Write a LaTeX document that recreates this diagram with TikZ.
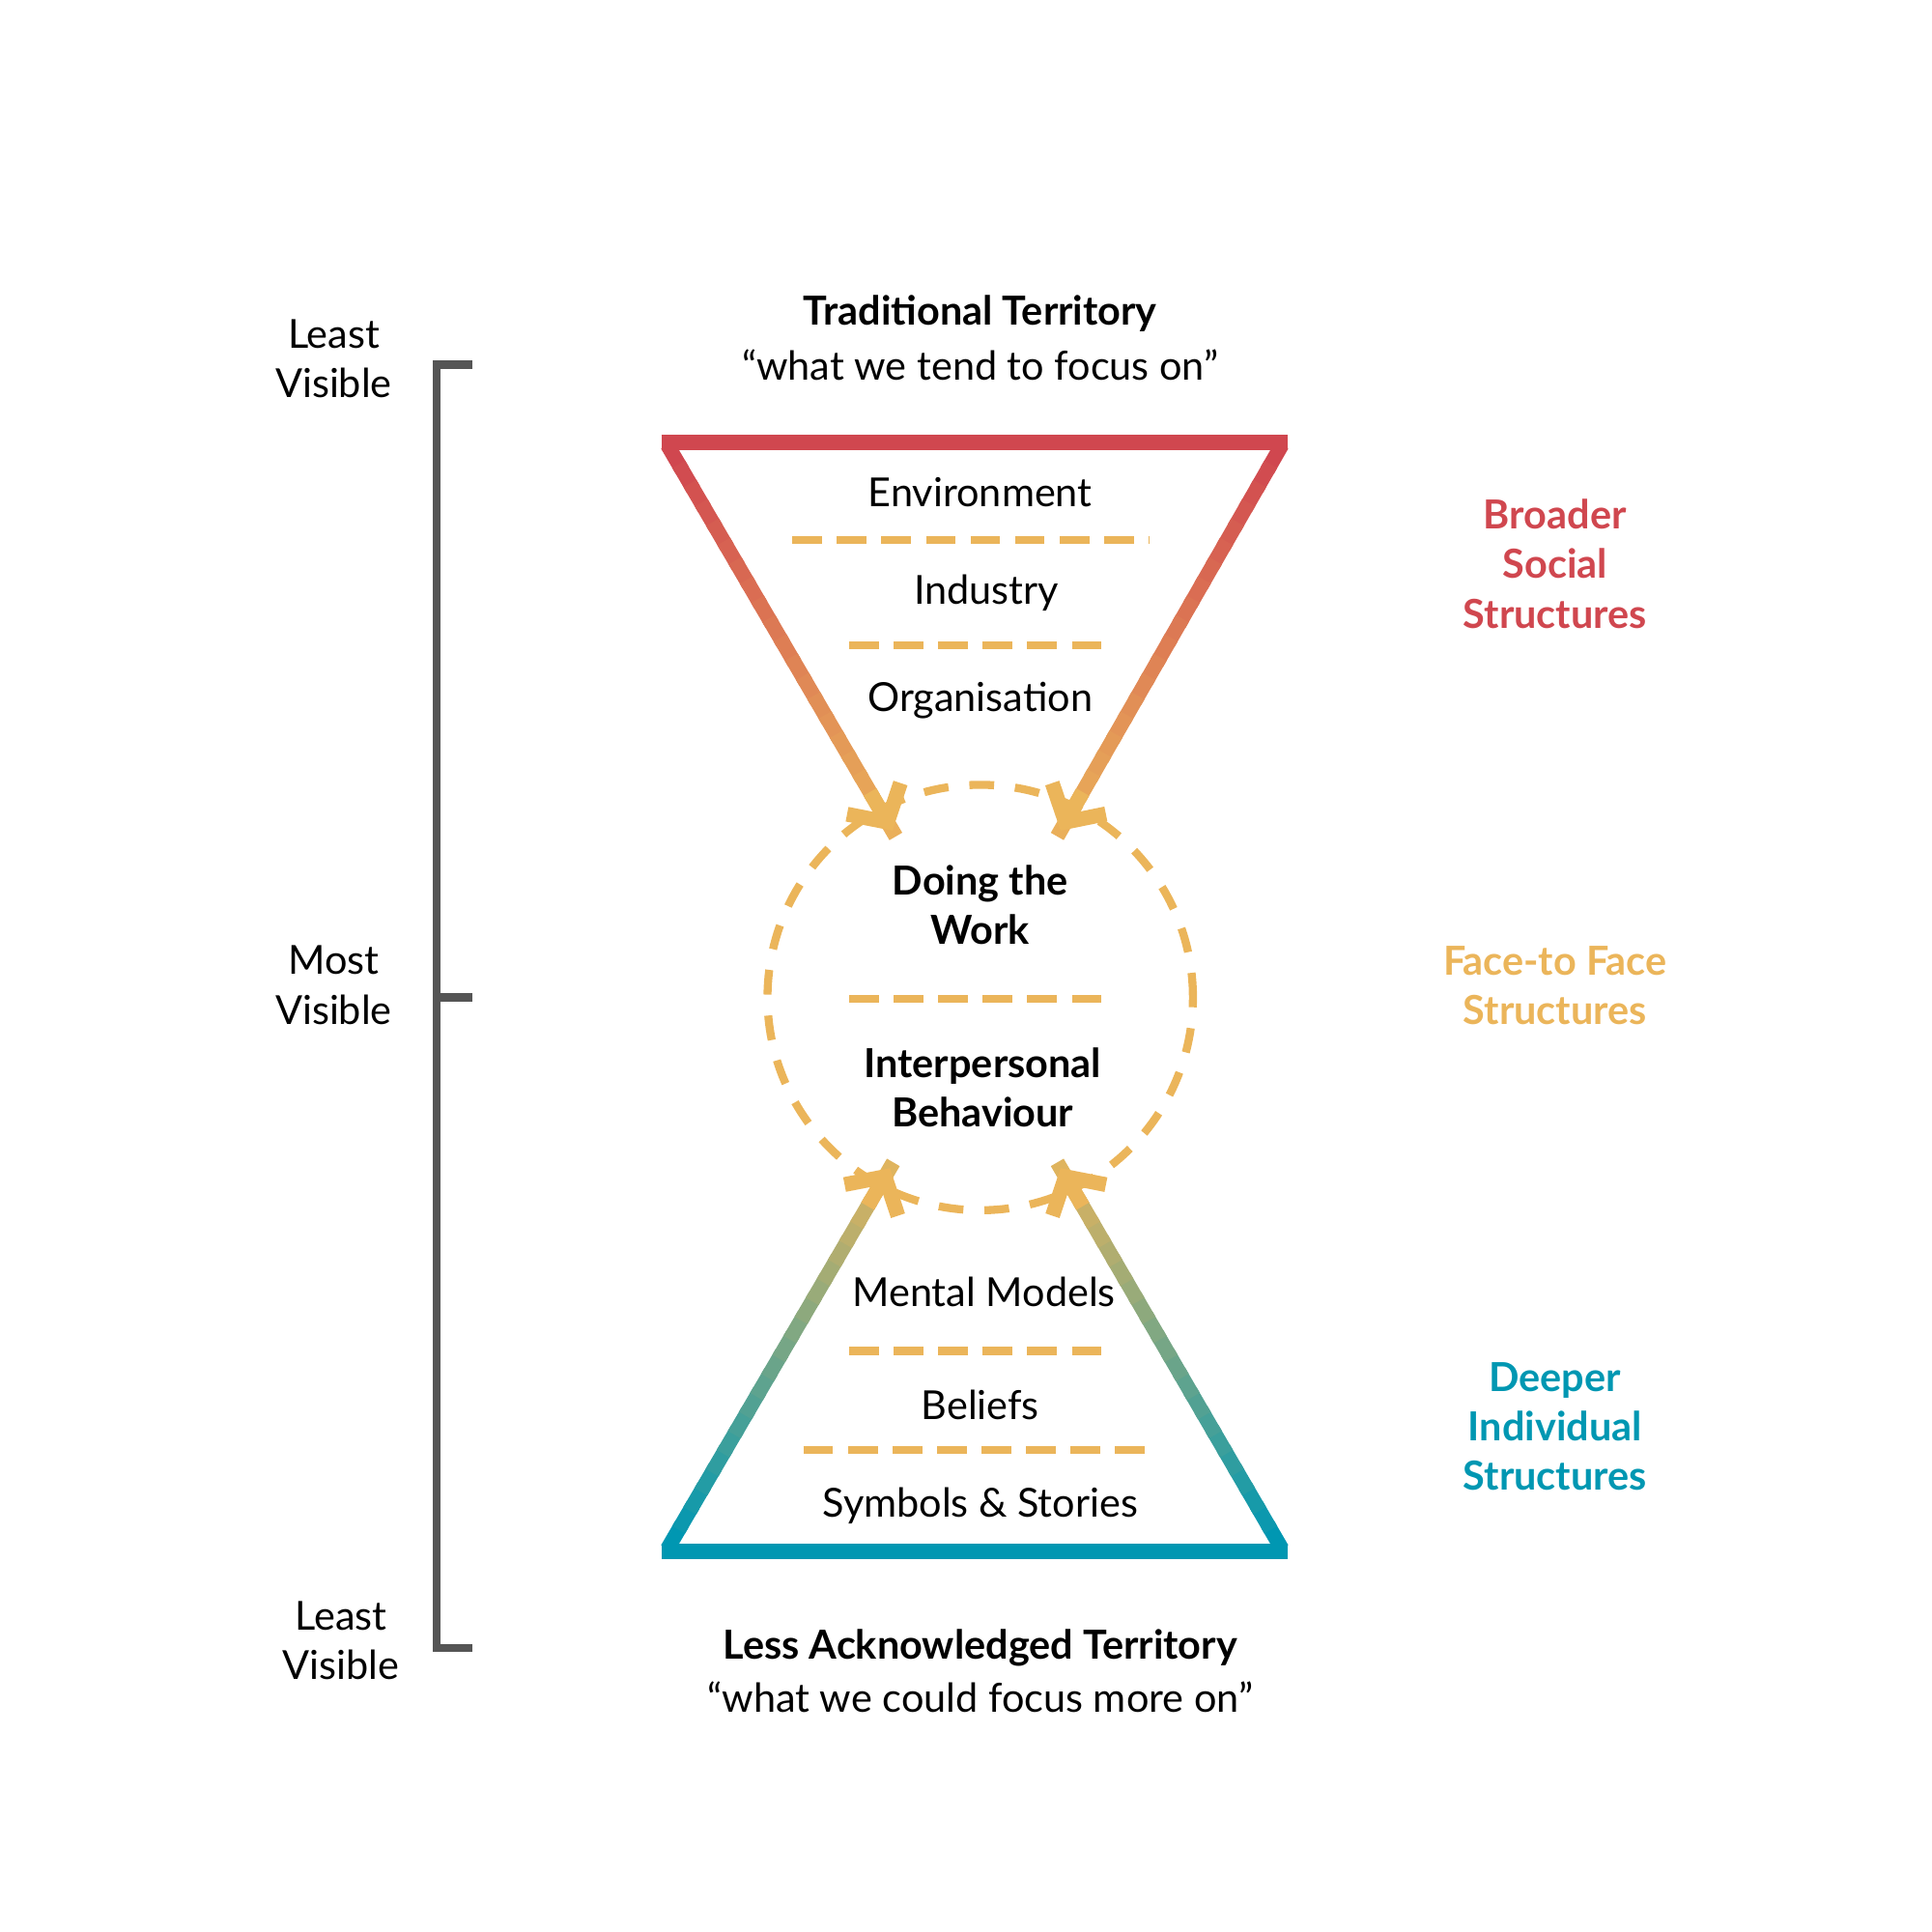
\documentclass[tikz,border=0pt]{standalone}
\usepackage{fontspec}
\setmainfont{Lato}
\usetikzlibrary{arrows.meta,calc}
\definecolor{cred}{HTML}{D0474F}
\definecolor{corg}{HTML}{EBB55A}
\definecolor{cteal}{HTML}{0097B2}
\definecolor{cgray}{HTML}{555555}
\begin{document}
\begin{tikzpicture}[x=0.01cm,y=-0.01cm,
  txt/.style={font=\fontsize{9.2}{11.4}\selectfont,align=center},
  btxt/.style={font=\fontsize{9.2}{11.4}\selectfont\bfseries,align=center},
  dsh/.style={corg,line width=0.065cm,dash pattern=on 0.24cm off 0.12cm},
  tipst/.style={-{Straight Barb[length=0.22cm,width=0.5cm]}}]
\useasboundingbox (0,0) rectangle (1563,1563);
% bracket
\draw[cgray,line width=0.065cm] (382,295) -- (353,295) -- (353,1333) -- (382,1333);
\draw[cgray,line width=0.065cm] (353,807) -- (382,807);
\node[txt] (l1) at (270,290) {Least\\Visible};
\node[txt] (l2) at (270,797) {Most\\Visible};
\node[txt] (l3) at (276,1327) {Least\\Visible};
% corners
\coordinate (TL) at (540,360); \coordinate (TR) at (1037,360);
\coordinate (A1) at (722,672); \coordinate (A2) at (858,672);
\coordinate (BL) at (540,1253); \coordinate (BR) at (1037,1253);
\coordinate (B1) at (720,945); \coordinate (B2) at (858,945);
\draw[cred,line width=0.12cm] (535,358) -- (1042,358);
\draw[cteal,line width=0.12cm] (535,1255) -- (1042,1255);
\foreach \i in {0,...,19}{
  \pgfmathsetmacro\a{\i/20}\pgfmathsetmacro\b{(\i+1.3)/20}
  \pgfmathsetmacro\p{100-5*\i}
  \colorlet{cc}{cred!\p!corg}
  \colorlet{ct}{cteal!\p!corg}
  \draw[cc,line width=0.12cm] ($(TL)!\a!(A1)$) -- ($(TL)!\b!(A1)$);
  \draw[cc,line width=0.12cm] ($(TR)!\a!(A2)$) -- ($(TR)!\b!(A2)$);
  \draw[ct,line width=0.12cm] ($(BL)!\a!(B1)$) -- ($(BL)!\b!(B1)$);
  \draw[ct,line width=0.12cm] ($(BR)!\a!(B2)$) -- ($(BR)!\b!(B2)$);
}
\draw[corg,line width=0.12cm,tipst] ($(TL)!0.9!(A1)$) -- (A1);
\draw[corg,line width=0.12cm,tipst] ($(TR)!0.9!(A2)$) -- (A2);
\draw[corg,line width=0.12cm,tipst] ($(BL)!0.9!(B1)$) -- (B1);
\draw[corg,line width=0.12cm,tipst] ($(BR)!0.9!(B2)$) -- (B2);
% circle
\node[draw=corg,circle,minimum size=3.44cm,line width=0.065cm,dash pattern=on 0.2cm off 0.17cm] (c) at (793,807) {};
% dashes
\draw[dsh] (641,437) -- (930,437);
\draw[dsh] (687,522) -- (901,522);
\draw[dsh] (687,808) -- (901,808);
\draw[dsh] (687,1093) -- (901,1093);
\draw[dsh] (650,1173) -- (938,1173);
% texts
\node[btxt] (t1) at (793,254) {Traditional Territory};
\node[txt] (t2) at (793,295) {“what we tend to focus on”};
\node[txt] (e) at (793,398) {Environment};
\node[txt] (i) at (798,480) {Industry};
\node[txt] (o) at (793,567) {Organisation};
\node[btxt] (d) at (793,732) {Doing the\\Work};
\node[btxt] (ib) at (795,880) {Interpersonal\\Behaviour};
\node[txt] (m) at (796,1045) {Mental Models};
\node[txt] (b) at (793,1137) {Beliefs};
\node[txt] (s) at (793,1218) {Symbols \& Stories};
\node[btxt] (t3) at (793,1333) {Less Acknowledged Territory};
\node[txt] (t4) at (793,1373) {“what we could focus more on”};
\node[btxt,text=cred] (r1) at (1258,456) {Broader\\Social\\Structures};
\node[btxt,text=corg] (r2) at (1258,797) {Face-to Face\\Structures};
\node[btxt,text=cteal] (r3) at (1258,1154) {Deeper\\Individual\\Structures};
\end{tikzpicture}
\end{document}
